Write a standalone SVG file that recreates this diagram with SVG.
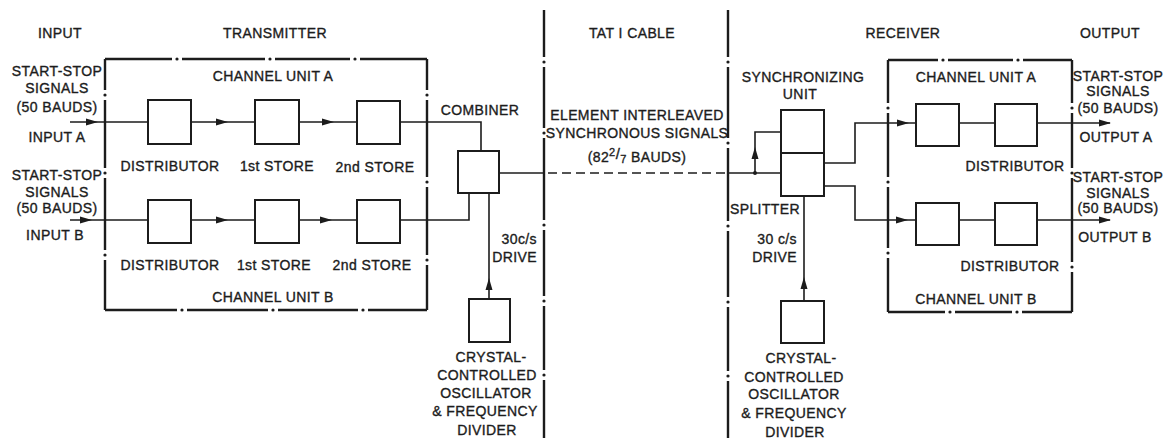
<svg xmlns="http://www.w3.org/2000/svg" width="1164" height="438" viewBox="0 0 1164 438">
<defs>
<style>
text{font-family:"Liberation Sans",Arial,sans-serif;font-size:14px;fill:#1c1c1c;stroke:#1c1c1c;stroke-width:0.35;letter-spacing:0.4px;text-anchor:middle}
.e{text-anchor:end}
.box{fill:none;stroke:#1c1c1c;stroke-width:2}
.ln{fill:none;stroke:#1c1c1c;stroke-width:1.6}
.dash{fill:none;stroke:#1c1c1c;stroke-width:1.6;stroke-dasharray:9 5}
.bd{fill:none;stroke:#1c1c1c;stroke-width:2.4}
.dot{fill:#1c1c1c}
.ah{fill:#1c1c1c}
</style>
</defs>
<rect width="1164" height="438" fill="#fff"/>

<g id="headings">
<text x="60" y="38">INPUT</text>
<text x="275" y="38">TRANSMITTER</text>
<text x="632" y="38">TAT I CABLE</text>
<text x="903" y="38">RECEIVER</text>
<text x="1110" y="38">OUTPUT</text>
</g>

<g id="tat-boundaries">
<path class="bd" d="M544 10V57M544 67V128M544 138V220M544 230V296M544 306V370M544 380V438"/>
<circle class="dot" cx="544" cy="62" r="1.6"/><circle class="dot" cx="544" cy="133" r="1.6"/><circle class="dot" cx="544" cy="225" r="1.6"/><circle class="dot" cx="544" cy="301" r="1.6"/><circle class="dot" cx="544" cy="375" r="1.6"/>
<path class="bd" d="M728 10V57M728 67V138M728 148V221M728 231V297M728 307V371M728 381V438"/>
<circle class="dot" cx="728" cy="62" r="1.6"/><circle class="dot" cx="728" cy="143" r="1.6"/><circle class="dot" cx="728" cy="226" r="1.6"/><circle class="dot" cx="728" cy="302" r="1.6"/><circle class="dot" cx="728" cy="376" r="1.6"/>
</g>

<g id="transmitter">
<path class="bd" d="M105 59H172M182 59H265M275 59H350M360 59H427M427 59V90M427 100V177M427 187V255M427 265V310M105 310H177M187 310H268M278 310H358M368 310H427M105 59V90M105 100V168M105 178V250M105 260V310"/>
<circle class="dot" cx="177" cy="59" r="1.6"/><circle class="dot" cx="270" cy="59" r="1.6"/><circle class="dot" cx="355" cy="59" r="1.6"/>
<circle class="dot" cx="427" cy="95" r="1.6"/><circle class="dot" cx="427" cy="182" r="1.6"/><circle class="dot" cx="427" cy="260" r="1.6"/>
<circle class="dot" cx="182" cy="310" r="1.6"/><circle class="dot" cx="273" cy="310" r="1.6"/><circle class="dot" cx="363" cy="310" r="1.6"/>
<circle class="dot" cx="105" cy="95" r="1.6"/><circle class="dot" cx="105" cy="173" r="1.6"/><circle class="dot" cx="105" cy="255" r="1.6"/>
<text x="273" y="81">CHANNEL UNIT A</text>
<text x="273" y="302">CHANNEL UNIT B</text>
</g>

<g id="input-a">
<text x="57" y="76">START-STOP</text>
<text x="57" y="93">SIGNALS</text>
<text x="57" y="112">(50 BAUDS)</text>
<text x="57" y="142">INPUT A</text>
</g>
<g id="input-b">
<text x="57" y="180">START-STOP</text>
<text x="57" y="197">SIGNALS</text>
<text x="57" y="213">(50 BAUDS)</text>
<text x="55" y="240">INPUT B</text>
</g>

<g id="tx-dist-a"><rect class="box" x="148" y="100" width="43" height="44"/><text x="170" y="171">DISTRIBUTOR</text></g>
<g id="tx-store1-a"><rect class="box" x="255" y="100" width="44" height="44"/><text x="277" y="171">1st STORE</text></g>
<g id="tx-store2-a"><rect class="box" x="357" y="101" width="43" height="43"/><text x="375" y="172">2nd STORE</text></g>
<g id="tx-dist-b"><rect class="box" x="148" y="200" width="43" height="43"/><text x="170" y="270">DISTRIBUTOR</text></g>
<g id="tx-store1-b"><rect class="box" x="255" y="200" width="44" height="43"/><text x="274" y="270">1st STORE</text></g>
<g id="tx-store2-b"><rect class="box" x="357" y="200" width="43" height="43"/><text x="372" y="270">2nd STORE</text></g>

<g id="combiner"><rect class="box" x="458" y="151" width="41" height="42"/><text x="480" y="115">COMBINER</text></g>
<g id="tx-oscillator">
<rect class="box" x="469" y="299" width="41" height="43"/>
<text x="491" y="362">CRYSTAL-</text>
<text x="487" y="380">CONTROLLED</text>
<text x="486" y="398">OSCILLATOR</text>
<text x="485" y="416">&amp; FREQUENCY</text>
<text x="487" y="435">DIVIDER</text>
</g>
<g id="tx-drive-label">
<text class="e" x="537" y="244">30c/s</text>
<text class="e" x="537" y="262">DRIVE</text>
</g>

<g id="cable-label">
<text x="637" y="120">ELEMENT INTERLEAVED</text>
<text x="637" y="138">SYNCHRONOUS SIGNALS</text>
<text x="637" y="162">(82<tspan font-size="11" dy="-6">2</tspan><tspan font-size="15" dy="3">/</tspan><tspan font-size="11" dy="4">7</tspan><tspan dy="-1"> BAUDS)</tspan></text>
</g>

<g id="sync-unit">
<rect class="box" x="781" y="110" width="43" height="86"/>
<line class="box" x1="781" y1="153" x2="824" y2="153"/>
<text x="803" y="82">SYNCHRONIZING</text>
<text x="800" y="99">UNIT</text>
<text x="765" y="214">SPLITTER</text>
</g>
<g id="rx-oscillator">
<rect class="box" x="781" y="301" width="43" height="42"/>
<text x="801" y="363">CRYSTAL-</text>
<text x="794" y="382">CONTROLLED</text>
<text x="794" y="399">OSCILLATOR</text>
<text x="794" y="418">&amp; FREQUENCY</text>
<text x="795" y="437">DIVIDER</text>
</g>
<g id="rx-drive-label">
<text class="e" x="797" y="244">30 c/s</text>
<text class="e" x="797" y="262">DRIVE</text>
</g>

<g id="receiver">
<path class="bd" d="M888 60H938M948 60H1013M1023 60H1072M1072 60V103M1072 113V168M1072 178V262M1072 272V312M888 312H945M955 312H1012M1022 312H1072M888 60V103M888 113V177M888 187V248M888 258V312"/>
<circle class="dot" cx="943" cy="60" r="1.6"/><circle class="dot" cx="1018" cy="60" r="1.6"/>
<circle class="dot" cx="1072" cy="108" r="1.6"/><circle class="dot" cx="1072" cy="173" r="1.6"/><circle class="dot" cx="1072" cy="267" r="1.6"/>
<circle class="dot" cx="950" cy="312" r="1.6"/><circle class="dot" cx="1017" cy="312" r="1.6"/>
<circle class="dot" cx="888" cy="108" r="1.6"/><circle class="dot" cx="888" cy="182" r="1.6"/><circle class="dot" cx="888" cy="253" r="1.6"/>
<text x="976" y="82">CHANNEL UNIT A</text>
<text x="976" y="304">CHANNEL UNIT B</text>
</g>
<g id="rx-a1"><rect class="box" x="916" y="104" width="43" height="42"/></g>
<g id="rx-dist-a"><rect class="box" x="995" y="104" width="42" height="42"/><text x="1015" y="171">DISTRIBUTOR</text></g>
<g id="rx-b1"><rect class="box" x="916" y="203" width="43" height="42"/></g>
<g id="rx-dist-b"><rect class="box" x="995" y="203" width="42" height="42"/><text x="1010" y="271">DISTRIBUTOR</text></g>

<g id="output-a">
<text x="1118" y="81">START-STOP</text>
<text x="1118" y="96">SIGNALS</text>
<text x="1118" y="113">(50 BAUDS)</text>
<text x="1116" y="142">OUTPUT A</text>
</g>
<g id="output-b">
<text x="1118" y="182">START-STOP</text>
<text x="1118" y="198">SIGNALS</text>
<text x="1118" y="213">(50 BAUDS)</text>
<text x="1115" y="242">OUTPUT B</text>
</g>

<g id="connectors">
<path class="ln" d="M70 122H148M191 122H255M299 122H357M400 122H481V151"/>
<path class="ln" d="M70 220H148M191 220H255M299 220H357M400 220H469V193"/>
<path class="ln" d="M489 193V299"/>
<path class="ln" d="M499 173H544"/>
<path class="dash" d="M548 173H728"/>
<path class="ln" d="M728 173H781M755 173V132H781"/>
<circle class="dot" cx="755" cy="173" r="2"/>
<path class="ln" d="M824 163H855V123H916M959 123H995M1037 123H1110"/>
<path class="ln" d="M824 186H855V220H916M959 220H995M1037 220H1110"/>
<path class="ln" d="M804 196V301"/>
<polygon class="ah" points="98,122 86,118.5 86,125.5"/>
<polygon class="ah" points="228,122 216,118.5 216,125.5"/>
<polygon class="ah" points="334,122 322,118.5 322,125.5"/>
<polygon class="ah" points="92,220 80,216.5 80,223.5"/>
<polygon class="ah" points="228,220 216,216.5 216,223.5"/>
<polygon class="ah" points="332,220 320,216.5 320,223.5"/>
<polygon class="ah" points="489,278 485.5,290 492.5,290"/>
<polygon class="ah" points="755,147 751.5,159 758.5,159"/>
<polygon class="ah" points="909,123 897,119.5 897,126.5"/>
<polygon class="ah" points="908,220 896,216.5 896,223.5"/>
<polygon class="ah" points="1111,123 1099,119.5 1099,126.5"/>
<polygon class="ah" points="1111,220 1099,216.5 1099,223.5"/>
<polygon class="ah" points="804,277 800.5,289 807.5,289"/>
</g>
</svg>
